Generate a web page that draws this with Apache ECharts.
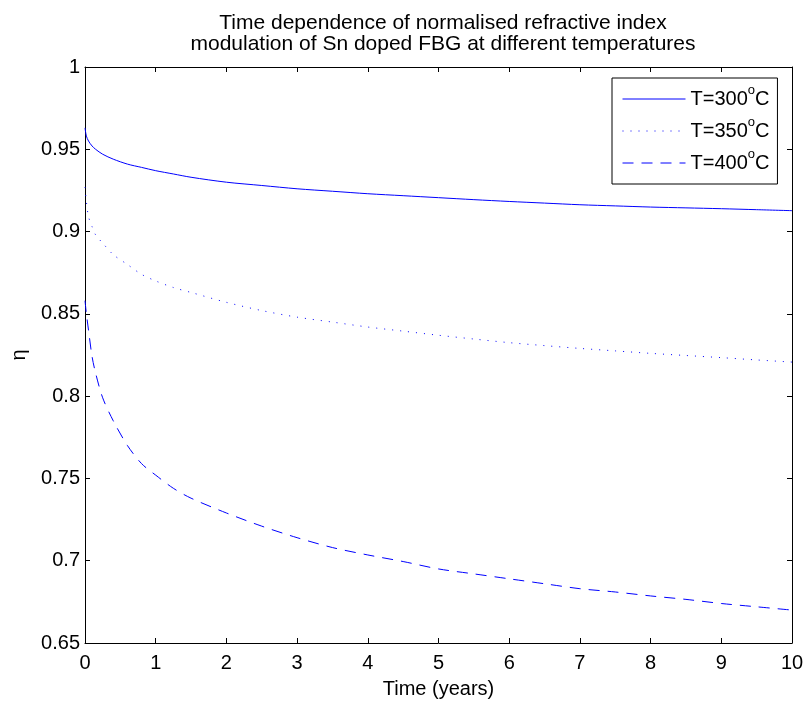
<!DOCTYPE html>
<html>
<head>
<meta charset="utf-8">
<script src="https://cdn.jsdelivr.net/npm/echarts@6/dist/echarts.min.js"></script>
<style>
  html, body { margin: 0; padding: 0; background: #fff; }
  #main { width: 808px; height: 706px; }
</style>
</head>
<body>
<div id="main"></div>
<script>
// time axis (years)
const years = [0, 0.02, 0.05, 0.1, 0.15, 0.25, 0.4, 0.6, 0.8, 1, 1.25, 1.5, 2, 2.5, 3, 3.5, 4, 4.5, 5, 5.5, 6, 6.5, 7, 7.5, 8, 8.5, 9, 9.5, 10]

// normalised index modulation
const eta300 = [0.963, 0.958, 0.955, 0.952, 0.950, 0.947, 0.944, 0.941, 0.939, 0.937, 0.935, 0.933, 0.930, 0.928, 0.926, 0.9245, 0.923, 0.9218, 0.9206, 0.9194, 0.9183, 0.9173, 0.9163, 0.9156, 0.9149, 0.9144, 0.9139, 0.9133, 0.9127]
const eta350 = [0.927, 0.918, 0.909, 0.903, 0.898, 0.893, 0.886, 0.880, 0.874, 0.870, 0.866, 0.863, 0.857, 0.852, 0.848, 0.845, 0.842, 0.8395, 0.837, 0.8347, 0.8325, 0.8307, 0.829, 0.8275, 0.826, 0.8247, 0.8234, 0.822, 0.8207]
const eta400 = [0.858, 0.850, 0.840, 0.824, 0.814, 0.799, 0.785, 0.770, 0.759, 0.752, 0.744, 0.738, 0.729, 0.721, 0.714, 0.708, 0.7035, 0.6995, 0.695, 0.692, 0.689, 0.686, 0.683, 0.681, 0.6786, 0.6765, 0.674, 0.672, 0.670]

const seriesNames = ['T=300', 'T=350', 'T=400']

const pairs = (vals) => years.map((t, i) => [t, vals[i]])

const FONT = 'Liberation Sans, Arial, sans-serif'
const axisCommon = {
  axisLine: { show: true, onZero: false, lineStyle: { color: '#000', width: 1 } },
  axisTick: { show: true, inside: true, length: 5, lineStyle: { color: '#000' } },
  splitLine: { show: false },
}

var myChart = echarts.init(document.getElementById('main'))
var option = {
  backgroundColor: '#fff',
  animation: false,
  title: {
    text: 'Time dependence of normalised refractive index\nmodulation of Sn doped FBG at different temperatures',
    left: 438,
    top: 8,
    textAlign: 'center',
    textStyle: { fontFamily: FONT, fontSize: 21, fontWeight: 'normal', color: '#000', lineHeight: 21 },
  },
  grid: { left: 85, right: 16, top: 67, bottom: 63 },
  legend: {
    orient: 'vertical',
    left: 612,
    top: 78,
    padding: [6, 8, 6, 10],
    borderColor: '#000',
    borderWidth: 1,
    backgroundColor: '#fff',
    itemWidth: 63,
    itemHeight: 14,
    itemGap: 2,
    data: seriesNames,
    itemStyle: { opacity: 0 },
    lineStyle: { width: 1 },
    formatter: (name) => name + '{sup|o}C',
    textStyle: {
      fontFamily: FONT,
      fontSize: 20,
      color: '#000',
      lineHeight: 30,
      rich: {
        sup: { fontFamily: FONT, fontSize: 13, color: '#000', lineHeight: 13, verticalAlign: 'top' },
      },
    },
  },
  xAxis: [
    Object.assign({
      type: 'value',
      min: 0,
      max: 10,
      interval: 1,
      name: 'Time (years)',
      nameLocation: 'middle',
      nameGap: 36,
      nameTextStyle: { fontFamily: FONT, fontSize: 20, color: '#000' },
      axisLabel: { fontFamily: FONT, fontSize: 20, color: '#000', margin: 10 },
    }, axisCommon),
    Object.assign({
      type: 'value', min: 0, max: 10, interval: 1, position: 'top',
      axisLabel: { show: false },
    }, axisCommon),
  ],
  yAxis: [
    Object.assign({
      type: 'value',
      min: 0.65,
      max: 1,
      interval: 0.05,
      name: 'η',
      nameLocation: 'middle',
      nameGap: 56,
      nameRotate: 90,
      nameTextStyle: { fontFamily: FONT, fontSize: 20, color: '#000' },
      axisLabel: { fontFamily: FONT, fontSize: 20, color: '#000', margin: 5 },
    }, axisCommon),
    Object.assign({
      type: 'value', min: 0.65, max: 1, interval: 0.05, position: 'right',
      axisLabel: { show: false },
    }, axisCommon),
  ],
  series: [
    {
      name: seriesNames[0],
      type: 'line',
      data: pairs(eta300),
      smooth: 0.3,
      symbol: 'none',
      lineStyle: { color: '#0000ff', width: 1, type: 'solid' },
      itemStyle: { color: '#0000ff' },
    },
    {
      name: seriesNames[1],
      type: 'line',
      data: pairs(eta350),
      smooth: 0.3,
      symbol: 'none',
      lineStyle: { color: '#0000ff', width: 1, type: [1, 7] },
      itemStyle: { color: '#0000ff' },
    },
    {
      name: seriesNames[2],
      type: 'line',
      data: pairs(eta400),
      smooth: 0.3,
      symbol: 'none',
      lineStyle: { color: '#0000ff', width: 1, type: [11, 8] },
      itemStyle: { color: '#0000ff' },
    },
  ],
}

option && myChart.setOption(option)
</script>
</body>
</html>
